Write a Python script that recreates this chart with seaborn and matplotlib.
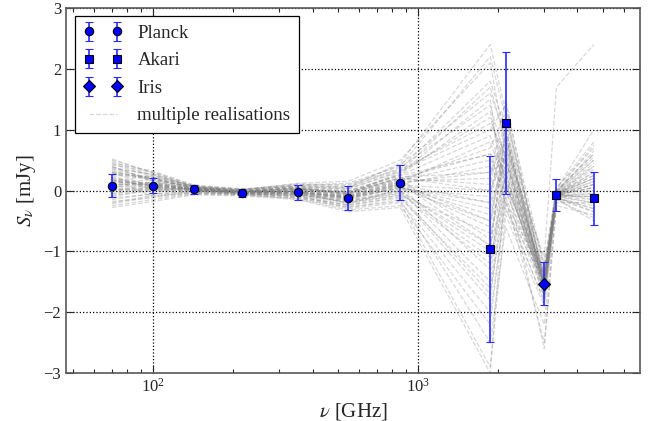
import matplotlib
matplotlib.use("Agg")
import matplotlib.pyplot as plt
from matplotlib.lines import Line2D
import pandas as pd
import seaborn as sns

# frequencies [GHz] and measured flux densities [mJy]
planck_freq = [70, 100, 143, 217, 353, 545, 857]
planck_flux = [0.08, 0.08, 0.02, -0.04, -0.03, -0.12, 0.13]
planck_err = [0.19, 0.12, 0.07, 0.06, 0.12, 0.20, 0.29]

akari_freq = [1874, 2141, 3331, 4612]
akari_flux = [-0.96, 1.11, -0.07, -0.13]
akari_err = [1.53, 1.17, 0.26, 0.44]

iris_freq = [2998]
iris_flux = [-1.53]
iris_err = [0.35]

# realisations, evaluated at all 12 bands (sorted by frequency)
realisation_freq = [70, 100, 143, 217, 353, 545, 857, 1874, 2141, 2998, 3331, 4612]
realisation_values = [
    [0.10, 0.08, 0.02, -0.03, -0.02, -0.10, 0.12, -0.90, 0.80, -1.55, -0.08, -0.10],
    [0.35, 0.20, 0.05, -0.01, 0.05, -0.05, 0.30, 1.20, 0.40, -1.60, -0.05, 0.20],
    [-0.15, -0.05, -0.03, -0.06, -0.10, -0.25, -0.10, -1.80, 0.10, -1.50, -0.12, -0.30],
    [0.50, 0.30, 0.08, 0.02, 0.10, 0.05, 0.45, 2.40, 1.30, -1.45, -0.02, 0.50],
    [0.05, 0.12, 0.00, -0.04, -0.05, -0.15, 0.05, -0.30, 0.60, -1.70, -0.10, -0.05],
    [0.25, 0.00, 0.04, -0.02, 0.02, -0.02, 0.20, 0.60, -0.20, -1.40, -0.06, 0.30],
    [-0.25, -0.15, -0.06, -0.08, -0.12, -0.30, -0.20, -2.90, -0.40, -1.90, -0.15, -0.45],
    [0.15, 0.25, 0.06, 0.00, 0.08, 0.10, 0.35, 1.80, 1.00, -1.20, 0.05, 0.70],
    [0.40, 0.15, 0.01, -0.05, -0.08, -0.20, -0.05, -1.20, 0.30, -1.65, -0.09, 0.10],
    [-0.05, 0.05, 0.03, -0.03, 0.00, -0.08, 0.15, 0.20, 1.50, -1.55, -0.07, 0.40],
    [0.20, -0.10, -0.01, -0.07, -0.14, -0.32, -0.25, -2.20, -0.10, -2.50, -0.20, -0.20],
    [0.30, 0.22, 0.07, 0.01, 0.12, 0.15, 0.50, 2.10, 0.70, -1.10, 1.70, 2.40],
    [0.00, 0.10, 0.02, -0.02, -0.03, -0.12, 0.08, -0.60, 0.90, -1.58, -0.04, 0.00],
    [0.45, 0.32, 0.09, 0.03, 0.06, 0.00, 0.25, 0.90, 0.20, -1.35, 0.00, 0.60],
    [-0.20, -0.08, -0.04, -0.06, -0.07, -0.18, 0.00, -1.50, 0.50, -1.75, -0.11, -0.35],
    [0.12, 0.18, 0.05, -0.01, 0.04, -0.06, 0.28, 1.50, -0.30, -1.50, -0.06, 0.25],
    [0.30, 0.05, 0.01, -0.04, -0.01, -0.22, 0.02, -0.10, 1.10, -1.62, -0.08, 0.05],
    [-0.10, 0.02, 0.00, -0.05, -0.09, -0.28, -0.15, -2.50, -0.60, -2.20, -0.14, -0.50],
    [0.52, 0.28, 0.06, 0.01, 0.09, 0.12, 0.40, 2.20, 1.20, -1.30, 0.02, 1.00],
    [0.08, 0.14, 0.03, -0.03, -0.02, -0.12, 0.10, 0.40, 0.00, -1.52, -0.07, 0.15],
    [0.22, 0.08, 0.02, -0.02, 0.03, -0.04, 0.18, -0.80, 0.70, -1.48, -0.05, -0.15],
    [-0.28, -0.18, -0.07, -0.09, -0.15, -0.35, -0.28, -3.00, 0.20, -2.60, -0.25, -0.40],
    [0.38, 0.26, 0.06, 0.00, 0.07, 0.02, 0.32, 1.00, 1.40, -1.25, 0.03, 0.80],
    [0.02, -0.02, 0.01, -0.04, -0.04, -0.14, 0.06, -0.40, 0.50, -1.60, -0.09, -0.10],
    [0.18, 0.12, 0.04, -0.02, 0.01, -0.08, 0.14, 0.80, 0.10, -1.45, -0.04, 0.35],
    [0.28, 0.20, 0.03, -0.03, -0.06, -0.16, 0.00, -1.00, 1.00, -1.68, -0.10, 0.00],
    [-0.08, 0.00, -0.02, -0.05, -0.11, -0.24, -0.12, -1.60, -0.20, -1.85, -0.13, -0.25],
    [0.42, 0.30, 0.07, 0.02, 0.11, 0.08, 0.42, 1.60, 0.90, -1.38, -0.01, 0.55],
    [0.06, 0.06, 0.01, -0.03, -0.03, -0.10, 0.09, 0.00, 0.60, -1.56, -0.07, 0.10],
    [0.14, 0.10, 0.02, -0.02, 0.00, -0.06, 0.16, 0.50, 0.30, -1.52, -0.06, 0.20],
    [0.33, 0.16, 0.04, -0.02, 0.04, -0.07, 0.22, 0.30, 0.80, -1.54, -0.06, 0.30],
    [-0.12, -0.06, -0.01, -0.05, -0.06, -0.20, -0.08, -0.70, 0.20, -1.64, -0.09, -0.20],
    [0.48, 0.24, 0.07, 0.01, 0.08, 0.04, 0.38, 1.40, 0.50, -1.40, -0.03, 0.65],
    [0.01, 0.04, 0.02, -0.03, -0.04, -0.11, 0.04, -0.20, 0.40, -1.57, -0.07, 0.05],
    [0.26, 0.18, 0.05, -0.01, 0.02, -0.03, 0.20, 0.10, 1.20, -1.50, -0.05, 0.45],
    [-0.18, -0.12, -0.05, -0.07, -0.13, -0.27, -0.18, -2.00, -0.30, -1.80, -0.14, -0.35],
    [0.16, 0.09, 0.03, -0.03, -0.02, -0.09, 0.11, -0.50, 0.90, -1.60, -0.08, 0.05],
    [0.36, 0.27, 0.06, 0.00, 0.06, 0.06, 0.34, 1.10, 0.60, -1.42, -0.02, 0.75],
    [0.09, 0.11, 0.02, -0.03, -0.03, -0.13, 0.07, -1.30, 0.70, -1.58, -0.08, -0.05],
    [0.21, 0.03, 0.01, -0.04, -0.07, -0.19, -0.02, -0.90, 0.00, -1.66, -0.10, -0.15],
    [-0.02, 0.07, 0.03, -0.02, 0.01, -0.05, 0.17, 0.70, 1.30, -1.47, -0.05, 0.25],
    [0.44, 0.22, 0.05, -0.01, 0.03, -0.01, 0.26, 1.30, 0.10, -1.36, -0.03, 0.50],
    [0.11, 0.13, 0.03, -0.02, -0.01, -0.09, 0.13, 0.30, 0.50, -1.53, -0.06, 0.10],
    [-0.22, -0.10, -0.04, -0.06, -0.09, -0.23, -0.07, -1.70, 0.30, -1.78, -0.12, -0.30],
    [0.31, 0.19, 0.04, -0.02, 0.02, -0.04, 0.21, 0.00, 0.90, -1.50, -0.06, 0.20],
    [0.04, 0.01, 0.00, -0.04, -0.05, -0.13, 0.03, -0.50, 0.20, -1.62, -0.09, -0.10],
    [0.27, 0.21, 0.05, -0.01, 0.05, 0.03, 0.31, 1.70, 0.80, -1.33, -0.01, 0.60],
    [0.17, 0.07, 0.02, -0.03, -0.02, -0.11, 0.10, -0.20, 1.00, -1.57, -0.07, 0.15],
    [-0.06, 0.03, 0.01, -0.04, -0.06, -0.17, -0.04, -1.10, -0.10, -1.72, -0.11, -0.20],
    [0.39, 0.17, 0.04, -0.01, 0.04, -0.02, 0.24, 0.60, 0.50, -1.44, -0.04, 0.40],
]


def main():
    sns.set_style("ticks")
    plt.rcParams['font.family'] = ['Liberation Serif', 'DejaVu Serif']
    plt.rcParams['mathtext.fontset'] = 'stix'
    plt.rcParams['xtick.direction'] = 'in'
    plt.rcParams['ytick.direction'] = 'in'

    fig = plt.figure(figsize=(6.48, 4.21), dpi=100)
    ax = fig.add_axes([0.102, 0.114, 0.886, 0.867])

    rows = []
    for i, vals in enumerate(realisation_values):
        for f, v in zip(realisation_freq, vals):
            rows.append({'freq': f, 'flux': v, 'run': i})
    df = pd.DataFrame(rows)

    sns.lineplot(
        data=df, x='freq', y='flux', units='run', estimator=None,
        color='0.5', alpha=0.3, linestyle='--', linewidth=0.9,
        legend=False, ax=ax,
    )

    common = dict(linestyle='none', markerfacecolor='#0000ff', markeredgecolor='black',
                  markeredgewidth=0.8, ecolor='#2a2aff', elinewidth=1.2, capsize=3,
                  capthick=1.0)
    h1 = ax.errorbar(planck_freq, planck_flux, yerr=planck_err, marker='o', markersize=6,
                     label='Planck', **common)
    h2 = ax.errorbar(akari_freq, akari_flux, yerr=akari_err, marker='s', markersize=6,
                     label='Akari', **common)
    h3 = ax.errorbar(iris_freq, iris_flux, yerr=iris_err, marker='D', markersize=6,
                     label='Iris', **common)
    h4 = Line2D([], [], color='0.5', alpha=0.3, linestyle='--', linewidth=0.9)

    ax.set_xscale('log')
    ax.set_xlim(47, 6900)
    ax.set_ylim(-3, 3)
    ax.set_yticks([-3, -2, -1, 0, 1, 2, 3])
    ax.grid(True, which='major', color='black', linestyle=':', linewidth=0.9)
    ax.tick_params(which='both', top=True, right=True, labelsize=12, width=0.8)
    ax.tick_params(which='major', length=6)
    ax.tick_params(which='minor', length=3)
    for sp in ax.spines.values():
        sp.set_color('0.35')
        sp.set_linewidth(1.2)

    ax.set_xlabel(r'$\nu$ [GHz]', fontsize=15)
    ax.set_ylabel(r'$S_{\nu}$ [mJy]', fontsize=15)

    leg = ax.legend([h1, h2, h3, h4], ['Planck', 'Akari', 'Iris', 'multiple realisations'],
                    loc='upper left', numpoints=2, fontsize=13.5, fancybox=False,
                    framealpha=1, edgecolor='black', borderaxespad=0.45,
                    borderpad=0.45, labelspacing=0.55, handlelength=2.1,
                    handletextpad=0.8)
    leg.get_frame().set_linewidth(0.9)

    fig.savefig('out.png', dpi=100)
    plt.close(fig)


if __name__ == '__main__':
    main()
